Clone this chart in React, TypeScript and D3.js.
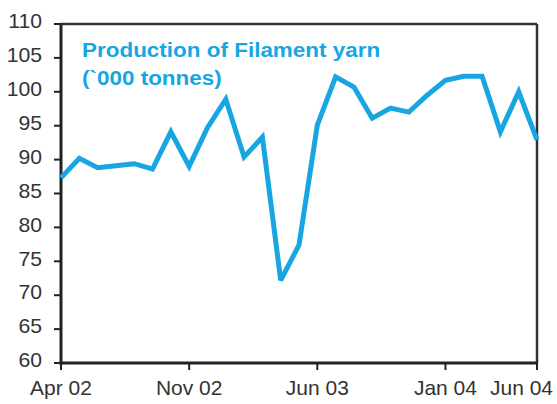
import React from "react";
import * as d3 from "d3";

const values: number[] = [
  87.3, 90.2, 88.8, 89.1, 89.4, 88.6, 94.1, 89.0, 94.7, 98.9, 90.4, 93.3, 72.2,
  77.4, 95.1, 102.2, 100.7, 96.1, 97.6, 97.0, 99.5, 101.7, 102.3, 102.3, 94.1,
  100.0, 92.9,
];
const xTickIdx: number[] = [0, 7, 14, 21, 26];
const xTickLabels: string[] = ["Apr 02", "Nov 02", "Jun 03", "Jan 04", "Jun 04"];
const yTicks: number[] = [60, 65, 70, 75, 80, 85, 90, 95, 100, 105, 110];
const titleLines: string[] = ["Production of Filament yarn", "(`000 tonnes)"];

const W = 557;
const H = 404;
const L = 61;
const R = 537;
const T = 24;
const B = 363;
const BLUE = "#17a6e2";

export default function App() {
  const x = d3.scaleLinear().domain([0, values.length - 1]).range([L, R]);
  const y = d3.scaleLinear().domain([60, 110]).range([B, T]);
  const line = d3
    .line<number>()
    .x((_, i) => x(i))
    .y((d) => y(d));
  const font = "'Liberation Sans', Arial, sans-serif";
  return (
    <svg
      width={W}
      height={H}
      style={{ position: "absolute", left: 0, top: 0, background: "#fff" }}
      fontFamily={font}
    >
      {/* frame */}
      <line x1={L} y1={T} x2={R} y2={T} stroke="#333" strokeWidth={2.5} />
      <line x1={R} y1={T} x2={R} y2={B} stroke="#333" strokeWidth={2.5} />
      <line x1={L} y1={T - 1} x2={L} y2={B + 1.5} stroke="#222" strokeWidth={3} />
      <line x1={L - 1.5} y1={B} x2={R + 1} y2={B} stroke="#222" strokeWidth={3} />
      {/* y ticks */}
      {yTicks.map((t) => (
        <g key={t}>
          <line x1={L - 7} x2={L} y1={y(t)} y2={y(t)} stroke="#222" strokeWidth={2} />
          <text
            transform={`translate(42,${y(t) - 1}) scale(1.06,1)`}
            textAnchor="end"
            fontSize={20}
            fill="#333"
            dominantBaseline="middle"
          >
            {t}
          </text>
        </g>
      ))}
      {/* x ticks */}
      {xTickIdx.map((idx, k) => {
        const last = k === xTickIdx.length - 1;
        const tx = last ? x(idx) + 16 : x(idx);
        return (
          <g key={idx}>
            <line x1={x(idx)} x2={x(idx)} y1={B} y2={B + 7} stroke="#222" strokeWidth={2} />
            <text
              transform={`translate(${tx},395) scale(1.05,1)`}
              textAnchor={last ? "end" : "middle"}
              fontSize={20}
              fill="#333"
            >
              {xTickLabels[k]}
            </text>
          </g>
        );
      })}
      {/* series */}
      <path
        d={line(values) || ""}
        fill="none"
        stroke={BLUE}
        strokeWidth={5}
        strokeLinejoin="miter"
        strokeMiterlimit={3}
      />
      {/* title */}
      {titleLines.map((s, i) => (
        <text
          key={i}
          transform={`translate(82,${57 + i * 28}) scale(1.07,1)`}
          fontSize={21}
          fontWeight="bold"
          fill={BLUE}
        >
          {s}
        </text>
      ))}
    </svg>
  );
}
